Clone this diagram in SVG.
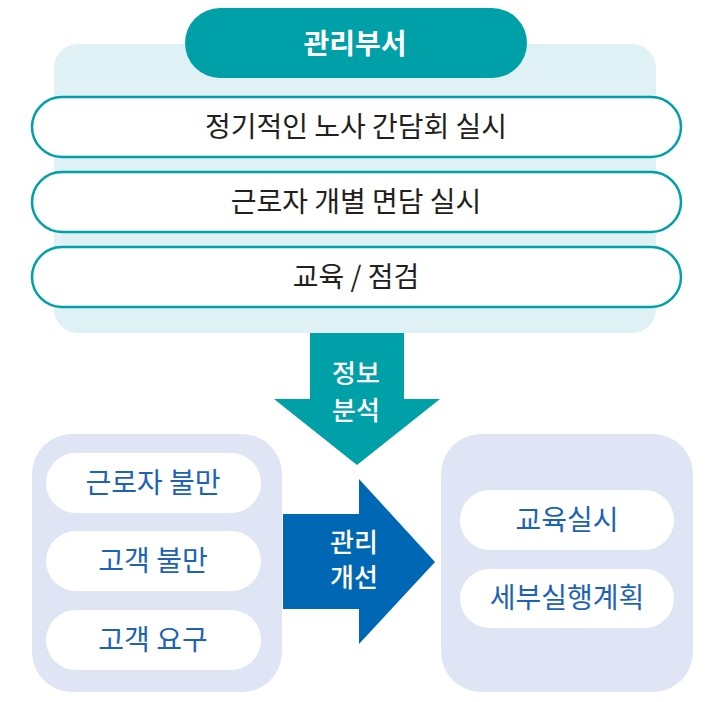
<svg xmlns="http://www.w3.org/2000/svg" width="724" height="702" viewBox="0 0 724 702">
<style>
text{font-family:"Noto Sans CJK KR","Noto Sans",sans-serif;text-anchor:middle}
.dark{fill:#231f20;font-size:28px}
.blue{fill:#1d63b5;font-size:28px}
.wt{fill:#ffffff;font-size:26px;font-weight:500}
.tpill{fill:#ffffff;stroke:#00a0a8;stroke-width:2.5}
.wpill{fill:#ffffff}
.bbox{fill:#dfe5f5}
</style>
<rect x="0" y="0" width="724" height="702" fill="#ffffff"/>
<g id="top-panel">
<rect x="54" y="44" width="602" height="289" rx="24" fill="#dff1f4"/>
</g>
<g id="dept">
<rect x="185" y="8" width="342" height="70" rx="35" fill="#00a0a8"/>
<text x="355" y="54" class="wt" style="font-weight:700;font-size:28px">관리부서</text>
</g>
<g id="n1">
<rect x="32" y="97" width="649" height="60" rx="30" class="tpill"/>
<text x="356" y="137" class="dark">정기적인 노사 간담회 실시</text>
</g>
<g id="n2">
<rect x="32" y="172" width="649" height="60" rx="30" class="tpill"/>
<text x="356" y="212" class="dark">근로자 개별 면담 실시</text>
</g>
<g id="n3">
<rect x="32" y="247" width="649" height="60" rx="30" class="tpill"/>
<text x="356" y="287" class="dark">교육 / 점검</text>
</g>
<g id="connectors">
<polygon points="310,333 404,333 404,399 440,399 357,465 274,399 310,399" fill="#00a0a8"/>
<polygon points="283,514 359,514 359,479 435,562 359,644 359,609 283,609" fill="#0067b4"/>
<text x="356" y="383" class="wt">정보</text>
<text x="356" y="420" class="wt">분석</text>
<text x="354" y="552" class="wt">관리</text>
<text x="354" y="587" class="wt">개선</text>
</g>
<g id="left-group">
<rect x="32" y="434" width="250" height="258" rx="40" class="bbox"/>
</g>
<g id="l1">
<rect x="46" y="453" width="215" height="60" rx="30" class="wpill"/>
<text x="153" y="493" class="blue">근로자 불만</text>
</g>
<g id="l2">
<rect x="46" y="531" width="215" height="60" rx="30" class="wpill"/>
<text x="153" y="571" class="blue">고객 불만</text>
</g>
<g id="l3">
<rect x="46" y="610" width="215" height="60" rx="30" class="wpill"/>
<text x="153" y="650" class="blue">고객 요구</text>
</g>
<g id="right-group">
<rect x="441" y="434" width="252" height="258" rx="40" class="bbox"/>
</g>
<g id="r1">
<rect x="460" y="490" width="214" height="60" rx="30" class="wpill"/>
<text x="567" y="530" class="blue">교육실시</text>
</g>
<g id="r2">
<rect x="460" y="569" width="214" height="59" rx="29.5" class="wpill"/>
<text x="567" y="608" class="blue">세부실행계획</text>
</g>
</svg>
